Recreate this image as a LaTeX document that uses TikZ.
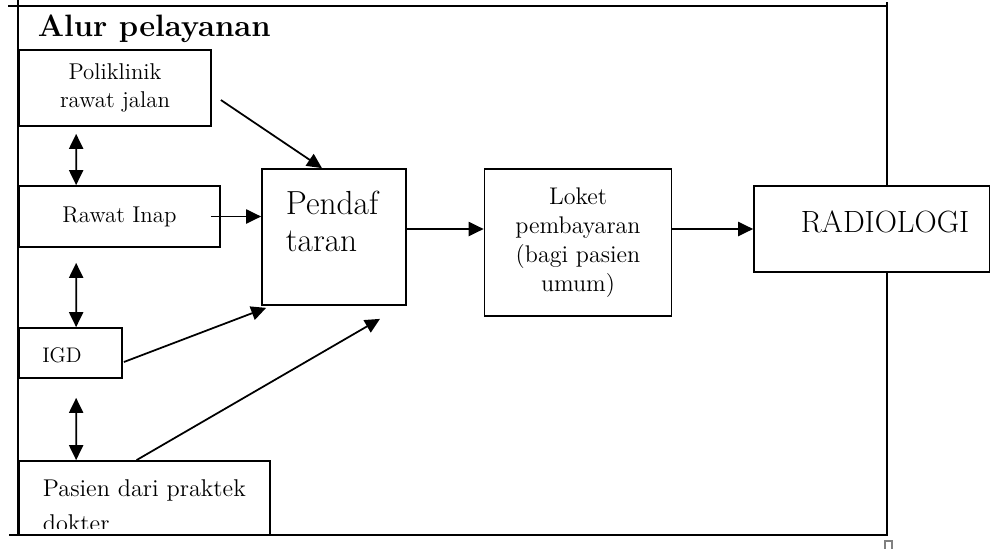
\documentclass[tikz,border=0pt]{standalone}
\usetikzlibrary{calc,arrows.meta}

\tikzset{
  kotak/.style={draw, fill=white, inner sep=0pt, align=center},
  teks/.style={inner sep=0pt, align=left},
  panah/.style={-{Triangle[length=8.5pt,width=8pt]}},
  panahdua/.style={{Triangle[length=8.5pt,width=8pt]}-{Triangle[length=8.5pt,width=8pt]}},
}

\begin{document}
\begin{tikzpicture}[line width=1pt, x=0.02cm, y=-0.02cm]
\useasboundingbox (0,0) rectangle (990,548);

% bingkai luar
\draw (8,6)--(888,6);
\draw (18,0)--(18,535);
\draw (887,2)--(887,535);
\draw (9,535)--(888,535);
\draw [gray, line width=0.6pt] (885,541) rectangle (892,552);

\node [anchor=base west, inner sep=0pt, font=\bfseries\fontsize{17.6}{20}\selectfont] (judul) at (37,36) {Alur pelayanan};

% kotak kiri
\node [kotak, minimum width=3.84cm, minimum height=1.52cm, font=\fontsize{13}{15.5}\selectfont] (poli) at (115,88) {Poliklinik\\rawat jalan};
\node [kotak, minimum width=4.02cm, minimum height=1.22cm, font=\fontsize{13}{15}\selectfont] (rawat) at (119.5,216.5) {Rawat Inap};
\node [kotak, minimum width=2.06cm, minimum height=1.0cm] (igd) at (70.5,353) {};
\node [teks, font=\fontsize{12}{14}\selectfont] (igdteks) at (62,355) {IGD};
\node [kotak, minimum width=5.02cm, minimum height=1.48cm] (pasien) at (144.5,498) {};
\begin{scope}
\clip (pasien.north west) rectangle ($(pasien.south east)+(0,-7)$);
\node [teks, anchor=north west, font=\fontsize{13.8}{19.8}\selectfont] (pasienteks) at (42,479) {Pasien dari praktek\\dokter};
\end{scope}

% kotak tengah
\node [kotak, minimum width=2.88cm, minimum height=2.72cm] (pend) at (334,237) {};
\node [teks, anchor=north west, font=\fontsize{19}{21}\selectfont] (pendteks) at (285,190) {Pendaf\\taran};
\node [kotak, minimum width=3.74cm, minimum height=2.94cm, font=\fontsize{13.7}{16.4}\selectfont] (loket) at (578,242.5) {Loket\\pembayaran\\(bagi pasien\\umum)};
\node [kotak, minimum width=4.72cm, minimum height=1.72cm] (radio) at (872,229) {};
\node [inner sep=0pt, anchor=base, font=\fontsize{17.5}{20}\selectfont] (radioteks) at (885,232) {RADIOLOGI};

% panah
\draw [panah] ($(poli.east)+(9,12)$) -- ($(pend.north)+(-12,0)$);
\draw [panahdua] ($(poli.south west)+(58,7)$) -- ($(rawat.north west)+(58,0)$);
\draw [panah] ($(rawat.east)+(-10,0)$) -- (rawat.east -| pend.west);
\draw [panahdua] ($(rawat.south west)+(58,15)$) -- ($(igd.north west)+(58,0)$);
\draw [panah] ($(igd.east)+(1,9)$) -- ($(pend.south west)+(5,2)$);
\draw [panahdua] ($(igd.south west)+(58,19)$) -- ($(pasien.north west)+(58,0)$);
\draw [panah] ($(pasien.north)+(-8,0)$) -- ($(pend.south)+(46,13)$);
\draw [panah] ($(pend.east)+(0,-8)$) -- ($(pend.east -| loket.west)+(0,-8)$);
\draw [panah] (loket.east |- radio.west) -- (radio.west);

\end{tikzpicture}
\end{document}
